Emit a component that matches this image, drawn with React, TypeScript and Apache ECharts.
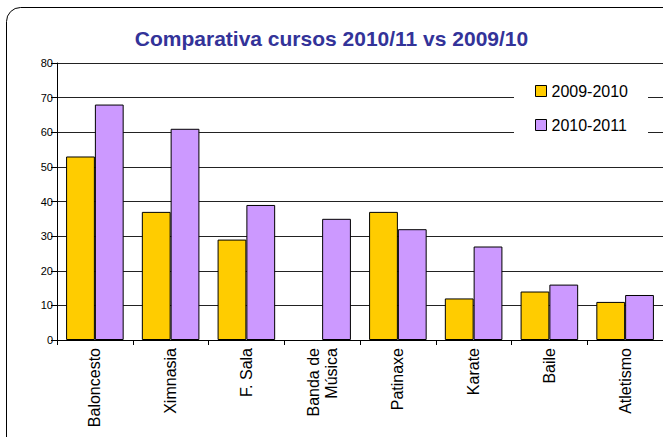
import React, { useEffect, useRef } from "react";
import * as echarts from "echarts";

const categories = ["Baloncesto", "Ximnasia", "F. Sala", "Banda de\nMúsica", "Patinaxe", "Karate", "Baile", "Atletismo"];
const series2009 = [53, 37, 29, null, 37, 12, 14, 11];
const series2010 = [68, 61, 39, 35, 32, 27, 16, 13];
const seriesNames = ["2009-2010", "2010-2011"];
const yTicks = { min: 0, max: 80, interval: 10 };

export default function App() {
  const ref = useRef<HTMLDivElement>(null);
  useEffect(() => {
    document.body.style.margin = "0";
    const chart = echarts.init(ref.current!, null, { renderer: "svg" });
    chart.setOption({
      animation: false,
      backgroundColor: "#fff",
      textStyle: { fontFamily: "Liberation Sans, Arial, sans-serif" },
      title: {
        text: "Comparativa cursos 2010/11 vs 2009/10",
        left: "center",
        top: 23,
        textStyle: { color: "#333399", fontSize: 21, fontWeight: "bold", fontFamily: "Liberation Sans, Arial, sans-serif" },
      },
      graphic: [
        {
          type: "rect",
          shape: { x: 6.5, y: 7.5, width: 700, height: 500, r: 14 },
          style: { fill: "none", stroke: "#000", lineWidth: 1 },
          silent: true,
          z: 100,
        },
      ],
      legend: {
        orient: "vertical",
        left: 514,
        top: 74,
        width: 141,
        backgroundColor: "#fff",
        padding: [9, 20, 9, 21],
        itemGap: 18,
        itemWidth: 11,
        itemHeight: 11,
        icon: "rect",
        textStyle: { fontSize: 16, color: "#000", fontFamily: "Liberation Sans, Arial, sans-serif" },
        itemStyle: { borderColor: "#000", borderWidth: 1 },
        data: seriesNames,
        z: 10,
      },
      grid: { left: 57, right: -7, top: 63, bottom: 97, containLabel: false },
      xAxis: {
        type: "category",
        data: categories,
        axisLine: { lineStyle: { color: "#000", width: 1 } },
        axisTick: { show: true, length: 5, lineStyle: { color: "#000" } },
        axisLabel: { rotate: 90, fontSize: 16, color: "#000", margin: 8, interval: 0, lineHeight: 18 },
      },
      yAxis: {
        type: "value",
        min: yTicks.min,
        max: yTicks.max,
        interval: yTicks.interval,
        axisLine: { show: true, lineStyle: { color: "#000" } },
        axisTick: { show: true, length: 6, lineStyle: { color: "#000" } },
        axisLabel: { fontSize: 11, color: "#000", margin: 4 },
        splitLine: { lineStyle: { color: "#222", width: 1 } },
      },
      series: [
        {
          name: seriesNames[0],
          type: "bar",
          data: series2009,
          barGap: "0%",
          barCategoryGap: "24%",
          itemStyle: { color: "#FFCC00", borderColor: "#000", borderWidth: 1 },
        },
        {
          name: seriesNames[1],
          type: "bar",
          data: series2010,
          barGap: "0%",
          barCategoryGap: "24%",
          itemStyle: { color: "#CC99FF", borderColor: "#000", borderWidth: 1 },
        },
      ],
    });
    return () => chart.dispose();
  }, []);
  return <div ref={ref} style={{ width: 663, height: 437, position: "absolute", left: 0, top: 0 }} />;
}
